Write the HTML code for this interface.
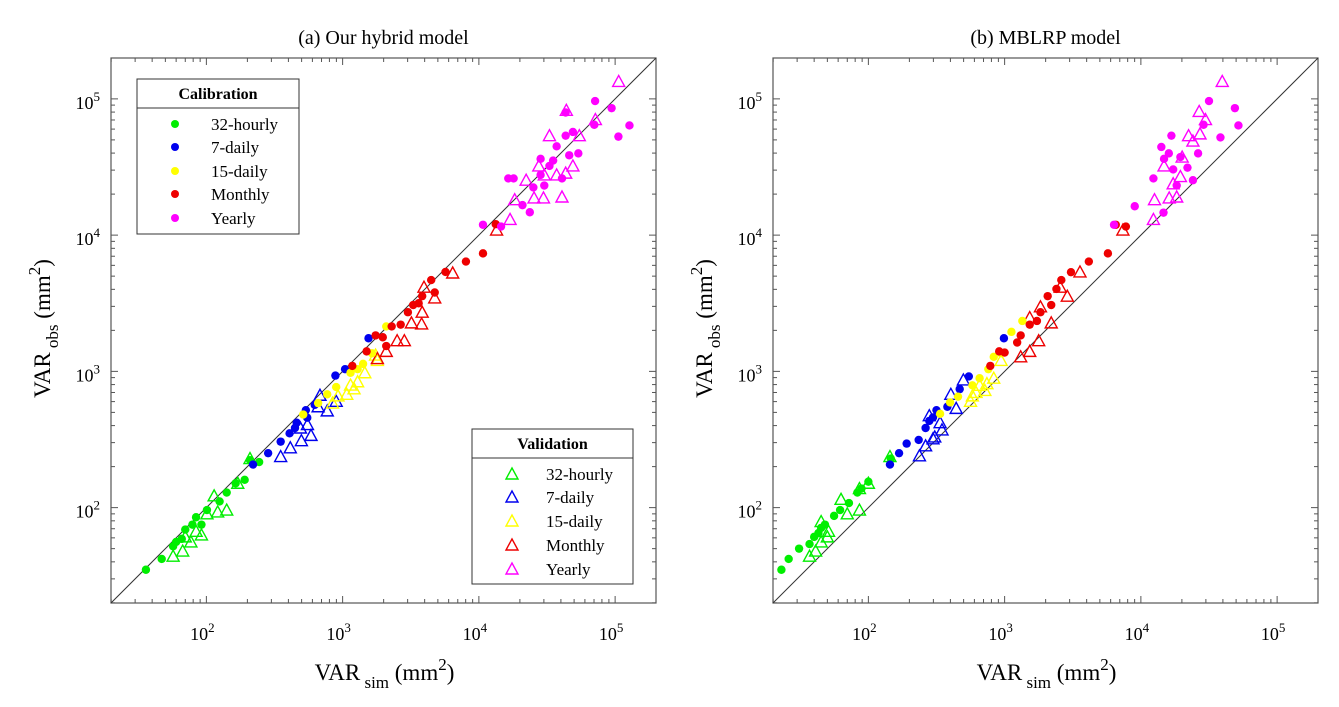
<!DOCTYPE html>
<html><head><meta charset="utf-8"><style>
html,body{margin:0;padding:0;background:#fff;}
svg{display:block;font-family:"Liberation Serif",serif;}
</style></head><body>
<svg id="fig" width="1339" height="707" viewBox="0 0 1339 707" xmlns="http://www.w3.org/2000/svg"></svg>
<script>
// ---------- Panel (a): Our hybrid model ----------
const aCalGreenX=[36,47,57,66,70,79,84,92,101,125,141,164,191,209,244,60];
const aCalGreenY=[35,42,52,59,69,75,85,75,96,111,129,151,160,223,216,56];
const aValGreenX=[57,67,77,92,121,141,170,209,84,70,114,101];
const aValGreenY=[44,48,56,63,93,96,151,229,67,61,122,90];
const aCalBlueX=[220,284,351,408,460,537,624,885,1549,447,550,1042];
const aCalBlueY=[207,251,305,351,420,519,568,931,1750,384,457,1038];
const aValBlueX=[351,413,498,586,552,661,771,897,682,490];
const aValBlueY=[237,275,310,339,407,550,513,603,668,384];
const aCalYellowX=[514,661,771,897,1143,1413,2090,1644,1288];
const aCalYellowY=[482,585,679,767,977,1135,2138,1358,1038];
const aValYellowX=[843,1072,1213,1288,1143,1455,1799,1746,925];
const aValYellowY=[585,679,745,839,794,977,1203,1318,661];
const aCalRedX=[1178,1500,1746,1971,2291,2668,3013,3296,3837,4467,5689,8035,10720,13300,4742,2090,3614];
const aCalRedY=[1097,1402,1837,1780,2138,2203,2717,3069,3565,4677,5370,6397,7345,12030,3793,1535,3162];
const aValRedX=[1799,2090,2512,2838,3199,3800,3837,4742,3955,6425,13490];
const aValRedY=[1241,1402,1679,1679,2270,2228,2717,3459,4147,5272,10890];
const aCalMagX=[10720,14550,16440,17990,20890,23650,25120,28380,30200,32960,35070,37220,40740,43350,46030,48980,53700,70310,71290,94190,105700,127400,28380,43350];
const aCalMagY=[11910,11560,26060,26060,16600,14720,22390,36310,23120,32210,35250,44870,26060,53700,38550,57150,39810,64570,96380,85510,52840,63830,27670,79430];
const aValMagX=[16940,18320,22230,25410,29790,27540,32960,37220,40740,43350,48980,54580,71620,106200,43850,30200];
const aValMagY=[13030,18200,25290,18750,18750,32210,53700,27670,19050,28510,32210,53700,70470,134300,82410,27670];

// ---------- Panel (b): MBLRP model ----------
const bCalGreenX=[23,26,31,37,40,45,48,56,62,72,83,100,89,43,146];
const bCalGreenY=[35,42,50,54,61,71,75,87,96,108,129,155,138,65,229];
const bValGreenX=[37,41,45,50,45,70,86,63,86,100,144,51];
const bValGreenY=[44,48,56,61,79,90,96,115,138,151,237,67];
const bCalBlueX=[144,168,191,234,263,280,316,380,468,546,988,298];
const bCalBlueY=[207,251,295,314,384,433,519,550,741,918,1750,459];
const bValBlueX=[237,263,307,347,280,336,441,403,498,298];
const bValBlueY=[240,284,330,372,473,420,535,679,865,320];
const bCalYellowX=[336,398,455,580,655,759,832,1122,1349,942];
const bCalYellowY=[488,592,652,790,891,1038,1279,1950,2344,1358];
const bValYellowX=[562,617,716,832,741,942,580,655];
const bValYellowY=[603,700,724,891,813,1203,661,790];
const bCalRedX=[785,912,1000,1236,1312,1528,1832,2070,2400,2606,3069,4150,5728,6546,7762,1726,2198];
const bCalRedY=[1097,1402,1374,1629,1837,2203,2717,3565,4027,4677,5346,6397,7345,11910,11560,2344,3069];
const bValRedX=[1312,1528,1778,1528,2198,2884,2559,3573,7379,1832];
const bValRedY=[1279,1402,1679,2483,2270,3565,4150,5370,10890,2979];
const bCalMagX=[6353,9016,14660,12360,14130,16750,16040,14790,17260,18320,21980,24100,26300,28840,31620,38370,48980,52000,19500];
const bCalMagY=[11910,16290,14620,26060,44360,53700,39810,36310,30340,23120,31260,25290,39810,64570,96380,52120,85510,63830,37410];
const bValMagX=[12360,12590,16140,18320,14790,19500,20090,22390,24100,27160,29790,26790,39550,17260];
const bValMagY=[13030,18200,18750,19050,32210,26920,37410,53700,48980,55340,70470,80910,134300,23820];

const tickExps=[2,3,4,5];
const legendLabels=["32-hourly","7-daily","15-daily","Monthly","Yearly"];
const colors=["#00ee00","#0000ee","#ffff00","#ee0000","#ff00ff"];
const LMIN=1.3, LMAX=5.3;

const NS="http://www.w3.org/2000/svg";
const svg=document.getElementById('fig');
function mk(tag,attrs,parent){const e=document.createElementNS(NS,tag);for(const k in attrs)e.setAttribute(k,attrs[k]);(parent||svg).appendChild(e);return e;}

function panel(id,x0,y0,size,title,cal,val){
  const g=mk('g',{});
  
  
  const sx=v=>x0+(Math.log10(v)-LMIN)/(LMAX-LMIN)*size;
  const sy=v=>y0+size-(Math.log10(v)-LMIN)/(LMAX-LMIN)*size;
  const fr=mk('rect',{x:x0,y:y0,width:size,height:size,fill:'none',stroke:'#555','stroke-width':1.2},g);
  
  
  for(let e=1;e<=5;e++){for(let m=1;m<=9;m++){
    const v=m*Math.pow(10,e); const lv=Math.log10(v);
    if(lv<LMIN||lv>LMAX)continue;
    const len=m===1?7:4;
    const px=sx(v), py=sy(v);
    mk('line',{x1:px,y1:y0+size,x2:px,y2:y0+size-len,stroke:'#555','stroke-width':1},g);
    mk('line',{x1:px,y1:y0,x2:px,y2:y0+len,stroke:'#555','stroke-width':1},g);
    mk('line',{x1:x0,y1:py,x2:x0+len,y2:py,stroke:'#555','stroke-width':1},g);
    mk('line',{x1:x0+size,y1:py,x2:x0+size-len,y2:py,stroke:'#555','stroke-width':1},g);
  }}
  tickExps.forEach(e=>{
    const v=Math.pow(10,e);
    const t=mk('text',{x:sx(v)-4,y:y0+size+37,'font-size':18,'text-anchor':'middle',fill:'#000'},g);
    
    
    t.innerHTML='10<tspan dy="-8" font-size="13">'+e+'</tspan>';
    const u=mk('text',{x:x0-11,y:sy(v)+10,'font-size':18,'text-anchor':'end',fill:'#000'},g);
    
    
    u.innerHTML='10<tspan dy="-8" font-size="13">'+e+'</tspan>';
  });
  const d=mk('line',{x1:sx(Math.pow(10,LMIN)),y1:sy(Math.pow(10,LMIN)),x2:sx(Math.pow(10,LMAX)),y2:sy(Math.pow(10,LMAX)),stroke:'#333','stroke-width':1},g);
  
  
  val.forEach((s,i)=>{s[0].forEach((xv,j)=>{
    const cx=sx(xv), cy=sy(s[1][j]);
    const p=mk('polygon',{points:`${cx},${cy-6} ${cx-6},${cy+5} ${cx+6},${cy+5}`,fill:'none',stroke:colors[i],'stroke-width':1.4},g);
    
    
  });});
  cal.forEach((s,i)=>{s[0].forEach((xv,j)=>{
    const c=mk('circle',{cx:sx(xv),cy:sy(s[1][j]),r:4.2,fill:colors[i]},g);
    
    
  });});
  const tt=mk('text',{x:x0+size/2,y:y0-14,'font-size':20,'text-anchor':'middle',fill:'#000'},g);
  
  
  tt.textContent=title;
  const xt=mk('text',{x:x0+size/2+1,y:y0+size+77,'font-size':23,'text-anchor':'middle',fill:'#000'},g);
  
  
  xt.innerHTML='VAR<tspan dy="8" font-size="17"> sim</tspan><tspan dy="-8"> (mm</tspan><tspan dy="-10" font-size="17">2</tspan><tspan dy="10">)</tspan>';
  const yt=mk('text',{transform:`translate(${x0-61},${y0+size/2-2}) rotate(-90)`,'font-size':23,'text-anchor':'middle',fill:'#000'},g);
  
  
  yt.innerHTML='VAR<tspan dy="8" font-size="17"> obs</tspan><tspan dy="-8"> (mm</tspan><tspan dy="-10" font-size="17">2</tspan><tspan dy="10">)</tspan>';
}

function legend(name,title,x,y,w,h,mx,tx,rows,tri){
  const g=mk('g',{});
  
  
  mk('rect',{x:x,y:y,width:w,height:h,fill:'#fff',stroke:'#333','stroke-width':1},g);
  mk('line',{x1:x,y1:y+29,x2:x+w,y2:y+29,stroke:'#333','stroke-width':1},g);
  const t=mk('text',{x:x+w/2,y:y+20,'font-size':16,'font-weight':'bold','text-anchor':'middle',fill:'#000'},g);
  t.textContent=title;
  legendLabels.forEach((lab,i)=>{
    const ry=rows[i];
    const e=mk('g',{},g);
    
    
    if(tri) mk('polygon',{points:`${mx},${ry-6} ${mx-6},${ry+5} ${mx+6},${ry+5}`,fill:'none',stroke:colors[i],'stroke-width':1.4},e);
    else mk('circle',{cx:mx,cy:ry,r:4,fill:colors[i]},e);
    const lt=mk('text',{x:tx,y:ry+6,'font-size':17,fill:'#000'},e);
    lt.textContent=lab;
  });
}

panel('a',111,58,545,'(a) Our hybrid model',
  [[aCalGreenX,aCalGreenY],[aCalBlueX,aCalBlueY],[aCalYellowX,aCalYellowY],[aCalRedX,aCalRedY],[aCalMagX,aCalMagY]],
  [[aValGreenX,aValGreenY],[aValBlueX,aValBlueY],[aValYellowX,aValYellowY],[aValRedX,aValRedY],[aValMagX,aValMagY]]);
panel('b',773,58,545,'(b) MBLRP model',
  [[bCalGreenX,bCalGreenY],[bCalBlueX,bCalBlueY],[bCalYellowX,bCalYellowY],[bCalRedX,bCalRedY],[bCalMagX,bCalMagY]],
  [[bValGreenX,bValGreenY],[bValBlueX,bValBlueY],[bValYellowX,bValYellowY],[bValRedX,bValRedY],[bValMagX,bValMagY]]);
legend('calibration-legend','Calibration',137,79,162,155,175,211,[124,147,171,194,218],false);
legend('validation-legend','Validation',472,429,161,155,512,546,[474,497,521,545,569],true);
</script>
</body></html>
